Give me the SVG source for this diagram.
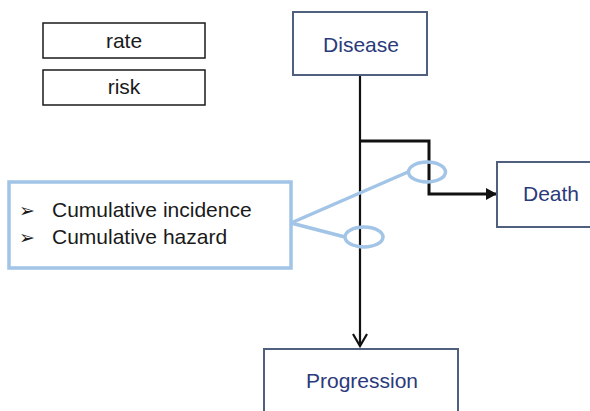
<svg xmlns="http://www.w3.org/2000/svg" width="590" height="411" viewBox="0 0 590 411">
<style>
.lbl{font-family:"Liberation Sans",Arial,sans-serif;font-size:21px;fill:#1a1a1a}
.st{font-family:"Liberation Sans",Arial,sans-serif;font-size:21px;fill:#2b3a7a}
.bul{font-family:"DejaVu Sans",sans-serif;font-size:19px;fill:#1a1a1a}
.box{fill:#fff;stroke:#1a1a1a;stroke-width:1.5}
.sbox{fill:#fff;stroke:#4f5f7e;stroke-width:2}
.blue{fill:none;stroke:#a2c4e6;stroke-width:3.5}
.blk{fill:none;stroke:#111;stroke-linejoin:miter}
</style>
<defs>
<marker id="tri" markerWidth="14" markerHeight="14" refX="11" refY="6" orient="auto" markerUnits="userSpaceOnUse">
<path d="M0,0 L11,6 L0,12 Z" fill="#111"/>
</marker>
</defs>
<rect width="590" height="411" fill="#fff"/>
<g id="legend-rate"><rect class="box" x="43" y="23" width="162" height="35"/><text class="lbl" x="124" y="48" text-anchor="middle">rate</text></g>
<g id="legend-risk"><rect class="box" x="43" y="70" width="162" height="35"/><text class="lbl" x="124" y="94" text-anchor="middle">risk</text></g>
<g id="connectors">
<line class="blk" x1="360" y1="75" x2="360" y2="346" stroke-width="2.2"/>
<polyline class="blk" points="353,334 360,346 367,334" stroke-width="2.2"/>
<polyline class="blk" points="360,141 429,141 429,194 497,194" stroke-width="3" marker-end="url(#tri)"/>
<polyline class="blue" points="408,172 291,223 345,237"/>
<ellipse class="blue" cx="427" cy="172" rx="18.5" ry="10"/>
<ellipse class="blue" cx="364" cy="237" rx="19" ry="10"/>
</g>
<g id="disease"><rect class="sbox" x="293" y="12" width="134" height="63"/><text class="st" x="361" y="52" text-anchor="middle">Disease</text></g>
<g id="death"><rect class="sbox" x="497" y="162" width="100" height="65"/><text class="st" x="551" y="201" text-anchor="middle">Death</text></g>
<g id="progression"><rect class="sbox" x="264" y="349" width="194" height="70"/><text class="st" x="362" y="388" text-anchor="middle">Progression</text></g>
<g id="measures"><rect x="9" y="182" width="282" height="86" fill="#fff" stroke="#a2c4e6" stroke-width="3.5"/>
<text class="bul" x="19" y="217">➢</text>
<text class="bul" x="19" y="244">➢</text>
<text class="lbl" x="52" y="217">Cumulative incidence</text>
<text class="lbl" x="52" y="244">Cumulative hazard</text>
</g>
</svg>
